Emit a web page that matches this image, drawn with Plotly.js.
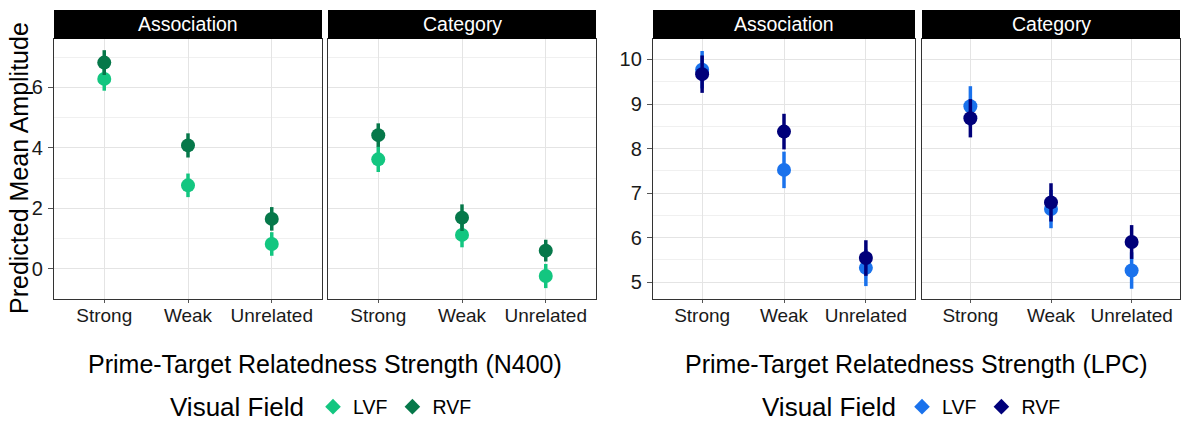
<!DOCTYPE html>
<html>
<head>
<meta charset="utf-8">
<script src="https://cdn.plot.ly/plotly-3.0.1.min.js"></script>
<style>html,body{margin:0;padding:0;background:#fff;}#chart{width:1181px;height:422px;}</style>
</head>
<body>
<div id="chart"></div>
<script>
// ---- Data ----
const categories = ['Strong', 'Weak', 'Unrelated'];
const facets = ['Association', 'Category'];
const fields = ['LVF', 'RVF'];

// N400 panel
const n400AssocLVF = [6.28, 2.76, 0.82];
const n400AssocLVFerr = [0.39, 0.39, 0.39];
const n400AssocRVF = [6.82, 4.08, 1.65];
const n400AssocRVFerr = [0.41, 0.40, 0.39];
const n400CatLVF = [3.62, 1.12, -0.24];
const n400CatLVFerr = [0.42, 0.41, 0.40];
const n400CatRVF = [4.42, 1.69, 0.60];
const n400CatRVFerr = [0.39, 0.44, 0.36];

// LPC panel
const lpcAssocLVF = [9.77, 7.52, 5.32];
const lpcAssocLVFerr = [0.42, 0.41, 0.41];
const lpcAssocRVF = [9.67, 8.38, 5.54];
const lpcAssocRVFerr = [0.42, 0.40, 0.40];
const lpcCatLVF = [8.95, 6.64, 5.26];
const lpcCatLVFerr = [0.45, 0.43, 0.41];
const lpcCatRVF = [8.68, 6.79, 5.90];
const lpcCatRVFerr = [0.43, 0.43, 0.38];

const n400Ticks = [0, 2, 4, 6];
const lpcTicks = [5, 6, 7, 8, 9, 10];

// ---- Styling ----
const greenLVF = '#13C680';
const greenRVF = '#06784A';
const blueLVF = '#1A72EC';
const blueRVF = '#00007A';
const FONT = 'Liberation Sans, Arial, Helvetica, sans-serif';

function pr(x, y, err, color, xa, ya) {
  return {
    type: 'scatter', mode: 'markers', x: x, y: y, xaxis: xa, yaxis: ya,
    showlegend: false, hoverinfo: 'skip',
    marker: {color: color, size: 14, line: {width: 0}},
    error_y: {type: 'data', array: err, visible: true, color: color, thickness: 3.5, width: 0}
  };
}
function leg(name, color, legendId) {
  return {
    type: 'scatter', mode: 'markers', x: [null], y: [null], xaxis: 'x', yaxis: 'y',
    name: name, legend: legendId, showlegend: true,
    marker: {color: color, size: 14, symbol: 'diamond'}
  };
}

const data = [
  pr(categories, n400AssocLVF, n400AssocLVFerr, greenLVF, 'x', 'y'),
  pr(categories, n400AssocRVF, n400AssocRVFerr, greenRVF, 'x', 'y'),
  pr(categories, n400CatLVF, n400CatLVFerr, greenLVF, 'x2', 'y2'),
  pr(categories, n400CatRVF, n400CatRVFerr, greenRVF, 'x2', 'y2'),
  pr(categories, lpcAssocLVF, lpcAssocLVFerr, blueLVF, 'x3', 'y3'),
  pr(categories, lpcAssocRVF, lpcAssocRVFerr, blueRVF, 'x3', 'y3'),
  pr(categories, lpcCatLVF, lpcCatLVFerr, blueLVF, 'x4', 'y4'),
  pr(categories, lpcCatRVF, lpcCatRVFerr, blueRVF, 'x4', 'y4'),
  leg(fields[0], greenLVF, 'legend'),
  leg(fields[1], greenRVF, 'legend'),
  leg(fields[0], blueLVF, 'legend2'),
  leg(fields[1], blueRVF, 'legend2')
];

const W = 1181, H = 422;
const px = v => v / W;
const py = v => (H - v) / H;
const yDom = [py(299), py(39)];
const doms = [[px(54), px(322)], [px(328), px(596)], [px(653), px(915)], [px(922), px(1180)]];

function xax(dom, anchor) {
  return {
    domain: dom, anchor: anchor, type: 'category', range: [-0.6, 2.6],
    showgrid: true, gridcolor: '#E4E4E4', gridwidth: 1,
    showline: true, mirror: true, linecolor: '#333333', linewidth: 1.2,
    ticks: 'outside', ticklen: 3, tickcolor: '#555555',
    ticklabelstandoff: -4,
    tickfont: {family: FONT, size: 19, color: '#1a1a1a'},
    zeroline: false, automargin: false, fixedrange: true
  };
}
function yax(dom, anchor, range, ticks, minorDt, labels, matches) {
  const a = {
    domain: dom, anchor: anchor, range: range,
    tickmode: 'array', tickvals: ticks, ticktext: ticks.map(String),
    showgrid: true, gridcolor: '#E4E4E4', gridwidth: 1,
    minor: {dtick: minorDt, tick0: 0, showgrid: true, gridcolor: '#F0F0F0', gridwidth: 1, ticks: ''},
    showline: true, mirror: true, linecolor: '#333333', linewidth: 1.2,
    ticks: labels ? 'outside' : '', ticklen: 5, tickcolor: '#555555',
    showticklabels: labels, ticklabelstandoff: 1,
    tickfont: {family: FONT, size: 20, color: '#1a1a1a'},
    zeroline: false, automargin: false, fixedrange: true
  };
  if (matches) a.matches = matches;
  return a;
}

const shapes = doms.map(d => ({
  type: 'rect', xref: 'paper', yref: 'paper', x0: d[0], x1: d[1],
  y0: py(39), y1: py(10), fillcolor: '#000000', line: {width: 0}, layer: 'above'
}));

const annotations = [];
[facets[0], facets[1], facets[0], facets[1]].forEach((t, i) => {
  annotations.push({
    text: t, xref: 'paper', yref: 'paper', x: (doms[i][0] + doms[i][1]) / 2,
    y: (py(39) + py(10)) / 2, xanchor: 'center', yanchor: 'middle', showarrow: false,
    font: {family: FONT, size: 19.5, color: '#ffffff'}
  });
});
annotations.push({
  text: 'Prime-Target Relatedness Strength (N400)', xref: 'paper', yref: 'paper',
  x: (doms[0][0] + doms[1][1]) / 2, y: py(364), xanchor: 'center', yanchor: 'middle',
  showarrow: false, font: {family: FONT, size: 25, color: '#000'}
});
annotations.push({
  text: 'Prime-Target Relatedness Strength (LPC)', xref: 'paper', yref: 'paper',
  x: (doms[2][0] + doms[3][1]) / 2, y: py(364), xanchor: 'center', yanchor: 'middle',
  showarrow: false, font: {family: FONT, size: 25, color: '#000'}
});
annotations.push({
  text: 'Predicted Mean Amplitude', xref: 'paper', yref: 'paper', textangle: -90,
  x: px(19), y: py(168), xanchor: 'center', yanchor: 'middle',
  showarrow: false, font: {family: FONT, size: 25, color: '#000'}
});
// legend titles
annotations.push({
  text: 'Visual Field', xref: 'paper', yref: 'paper', x: px(306), y: py(407),
  xanchor: 'right', yanchor: 'middle', showarrow: false,
  font: {family: FONT, size: 26, color: '#000'}
});
annotations.push({
  text: 'Visual Field', xref: 'paper', yref: 'paper', x: px(898), y: py(407),
  xanchor: 'right', yanchor: 'middle', showarrow: false,
  font: {family: FONT, size: 26, color: '#000'}
});

const legendBase = {
  orientation: 'h', xanchor: 'left', yanchor: 'middle', y: py(407),
  bgcolor: 'rgba(0,0,0,0)', borderwidth: 0, itemsizing: 'constant',
  font: {family: FONT, size: 19.5, color: '#000'}, itemclick: false, itemdoubleclick: false
};

const layout = {
  width: W, height: H, margin: {l: 0, r: 0, t: 0, b: 0, autoexpand: false},
  paper_bgcolor: '#ffffff', plot_bgcolor: '#ffffff',
  font: {family: FONT},
  showlegend: true,
  xaxis: xax(doms[0], 'y'),
  xaxis2: xax(doms[1], 'y2'),
  xaxis3: xax(doms[2], 'y3'),
  xaxis4: xax(doms[3], 'y4'),
  yaxis: yax(yDom, 'x', [-1.0, 7.6], n400Ticks, 1, true),
  yaxis2: yax(yDom, 'x2', [-1.0, 7.6], n400Ticks, 1, false, 'y'),
  yaxis3: yax(yDom, 'x3', [4.62, 10.46], lpcTicks, 0.5, true),
  yaxis4: yax(yDom, 'x4', [4.62, 10.46], lpcTicks, 0.5, false, 'y3'),
  legend: Object.assign({}, legendBase, {x: px(313)}),
  legend2: Object.assign({}, legendBase, {x: px(902)}),
  shapes: shapes,
  annotations: annotations
};

Plotly.newPlot('chart', data, layout, {displayModeBar: false, staticPlot: true});
</script>
</body>
</html>
